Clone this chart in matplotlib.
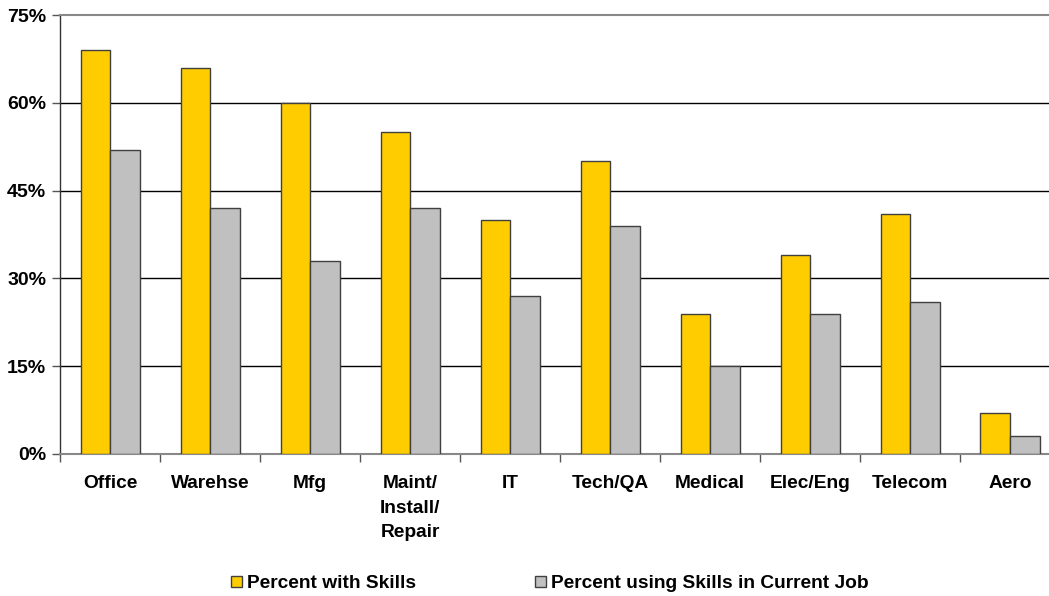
import matplotlib
matplotlib.use("Agg")
import matplotlib.pyplot as plt
import numpy as np
from matplotlib.ticker import FixedLocator, PercentFormatter

categories = ["Office", "Warehse", "Mfg", "Maint/\nInstall/\nRepair", "IT",
              "Tech/QA", "Medical", "Elec/Eng", "Telecom", "Aero"]
with_skills = [69, 66, 60, 55, 40, 50, 24, 34, 41, 7]
using_skills = [52, 42, 33, 42, 27, 39, 15, 24, 26, 3]
yticks = [0, 15, 30, 45, 60, 75]

plt.rcParams["font.family"] = ["Liberation Sans", "DejaVu Sans"]

fig = plt.figure(figsize=(10.49, 5.96), dpi=100)
W, H = 1049, 596
left, right, top, bottom = 60, 1060, 15, 454
ax = fig.add_axes([left / W, 1 - bottom / H, (right - left) / W, (bottom - top) / H])

x = np.arange(len(categories))
bw = 0.295
ax.bar(x - bw / 2, with_skills, bw, color="#FFCC00", edgecolor="#404040",
       linewidth=1.0, label="Percent with Skills", zorder=3)
ax.bar(x + bw / 2, using_skills, bw, color="#C0C0C0", edgecolor="#404040",
       linewidth=1.0, label="Percent using Skills in Current Job", zorder=3)

ax.set_xlim(-0.5, len(categories) - 0.5)
ax.set_ylim(0, 75)

ax.yaxis.set_major_locator(FixedLocator(yticks))
ax.yaxis.set_major_formatter(PercentFormatter(decimals=0))
for v in yticks[1:-1]:
    ax.axhline(v, color="black", linewidth=1.0, zorder=1)

ax.set_xticks(x)
ax.set_xticklabels(categories, fontsize=13.8, fontweight="bold", linespacing=1.6,
                   va="top")
ax.set_xticks(np.arange(len(categories) + 1) - 0.5, minor=True)
ax.tick_params(axis="x", which="major", length=0, pad=15)
ax.tick_params(axis="x", which="minor", length=6, width=1, color="#555555",
               direction="out")
ax.tick_params(axis="y", length=6, width=1, color="#555555", pad=4,
               labelsize=14)
for lbl in ax.get_yticklabels():
    lbl.set_fontweight("bold")

ax.spines["right"].set_visible(False)
ax.spines["top"].set_color("#888888")
ax.spines["top"].set_linewidth(1.5)
ax.spines["bottom"].set_color("#888888")
ax.spines["bottom"].set_linewidth(1.5)
ax.spines["left"].set_color("#333333")
ax.spines["left"].set_linewidth(1.0)

fig.legend(loc="center", bbox_to_anchor=(550 / W, 1 - 584 / H), ncol=2,
           frameon=False, handlelength=0.55, handleheight=0.55,
           handletextpad=0.3, columnspacing=6.2,
           prop={"weight": "bold", "size": 13.8})

fig.savefig("out.png", dpi=100)
